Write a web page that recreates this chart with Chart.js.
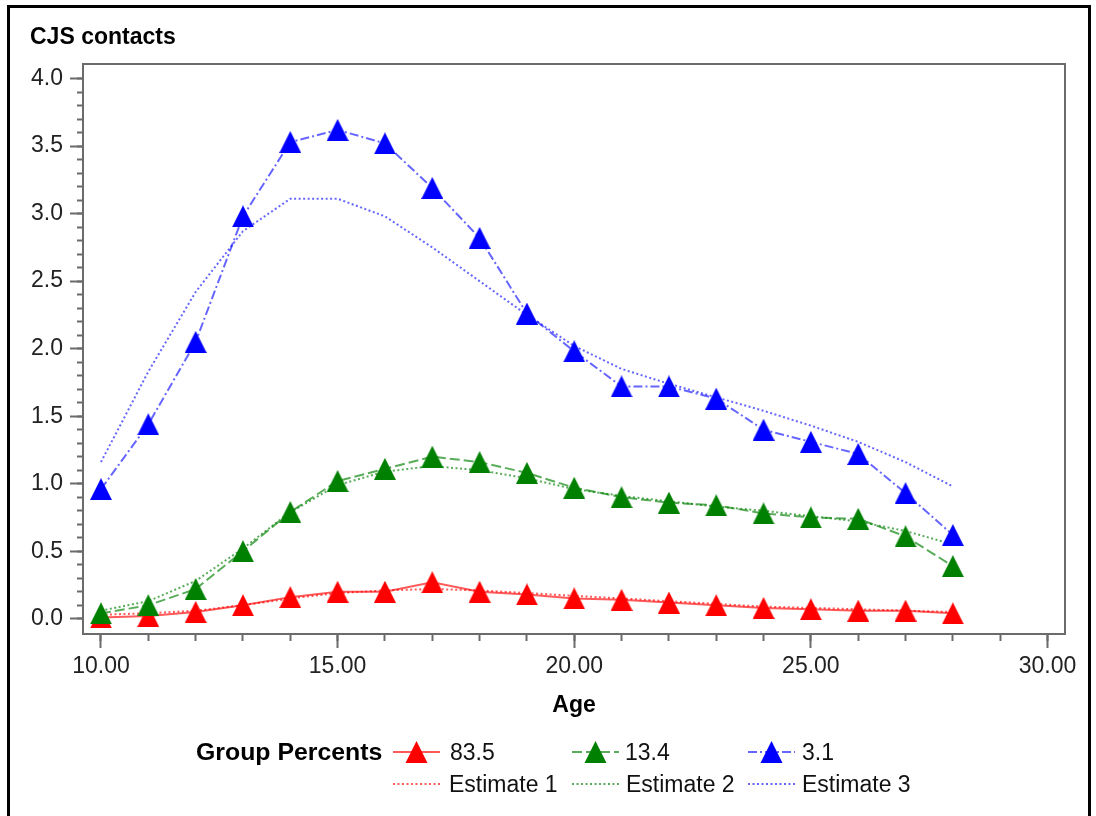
<!DOCTYPE html>
<html>
<head>
<meta charset="utf-8">
<title>CJS contacts</title>
<script src="https://cdn.jsdelivr.net/npm/chart.js@4/dist/chart.umd.min.js"></script>
<style>
  html, body { margin: 0; padding: 0; background: #fff; }
  #wrap { position: relative; width: 1096px; height: 816px; overflow: hidden; }
  #chart { position: absolute; left: 0; top: 0; }
  #frame { position: absolute; left: 7px; top: 5px; width: 1084px; height: 840px;
           border: 3px solid #000; box-sizing: border-box; pointer-events: none; }
  .lg { position: absolute; height: 28px; line-height: 28px; white-space: nowrap;
        font-family: 'Liberation Sans', Arial, sans-serif; font-size: 23px; color: #111; }
  .lg.b { font-weight: bold; color: #000; }
  .sw { position: absolute; width: 48px; height: 28px; }
</style>
</head>
<body>
<div id="wrap">
  <canvas id="chart" width="1096" height="816"></canvas>
  <div id="frame"></div>
  <div id="legend"></div>
</div>
<script>
// Age in years
const ages = [10, 11, 12, 13, 14, 15, 16, 17, 18, 19, 20, 21, 22, 23, 24, 25, 26, 27, 28];

// Observed mean CJS contacts per trajectory group
const group1 = [0.01, 0.02, 0.05, 0.10, 0.16, 0.20, 0.20, 0.27, 0.20, 0.18, 0.15, 0.14, 0.12, 0.10, 0.08, 0.07, 0.06, 0.06, 0.04];
const group2 = [0.04, 0.10, 0.22, 0.50, 0.79, 1.02, 1.11, 1.20, 1.16, 1.08, 0.97, 0.90, 0.86, 0.84, 0.78, 0.75, 0.74, 0.61, 0.39];
const group3 = [0.96, 1.44, 2.05, 2.98, 3.53, 3.62, 3.52, 3.19, 2.82, 2.26, 1.98, 1.72, 1.72, 1.63, 1.40, 1.31, 1.22, 0.93, 0.62];

// Model estimates per group
const estimate1 = [0.03, 0.04, 0.06, 0.10, 0.15, 0.19, 0.21, 0.22, 0.21, 0.19, 0.17, 0.15, 0.13, 0.11, 0.09, 0.08, 0.07, 0.06, 0.05];
const estimate2 = [0.06, 0.13, 0.28, 0.52, 0.79, 0.99, 1.09, 1.13, 1.10, 1.04, 0.96, 0.91, 0.87, 0.83, 0.80, 0.76, 0.72, 0.65, 0.55];
const estimate3 = [1.16, 1.83, 2.42, 2.87, 3.11, 3.11, 2.98, 2.75, 2.50, 2.25, 2.02, 1.85, 1.74, 1.64, 1.54, 1.43, 1.31, 1.16, 0.98];

// Legend names
const groupPercents = ['83.5', '13.4', '3.1'];
const estimateNames = ['Estimate 1', 'Estimate 2', 'Estimate 3'];

// Axis tick labels
const xTickValues = [10, 15, 20, 25, 30];
const yTickValues = [0, 0.5, 1.0, 1.5, 2.0, 2.5, 3.0, 3.5, 4.0];

const FONT = "'Liberation Sans', Arial, sans-serif";
const AXIS_GREY = '#6b6b6b';
const COLORS = ['#ff0000', '#008000', '#0000ff'];
const LINE_COLORS = ['rgba(255,0,0,0.65)', 'rgba(0,128,0,0.65)', 'rgba(0,0,255,0.6)'];
const GROUP_DASH = [[], [10, 4], [9, 3, 2, 3]];
const EST_DASH = [2, 2.5];

// Filled triangle used as the point marker
function triangleMarker(color) {
  const c = document.createElement('canvas');
  c.width = 22; c.height = 22;
  const g = c.getContext('2d');
  g.fillStyle = color;
  g.beginPath();
  g.moveTo(11, 0); g.lineTo(22, 22); g.lineTo(0, 22);
  g.closePath(); g.fill();
  return c;
}

const toPoints = vals => ages.map((a, i) => ({ x: a, y: vals[i] }));

const groupData = [group1, group2, group3];
const estData = [estimate1, estimate2, estimate3];

const datasets = [];
groupData.forEach((vals, k) => {
  datasets.push({
    label: groupPercents[k],
    data: toPoints(vals),
    borderColor: LINE_COLORS[k],
    borderWidth: 2,
    borderDash: GROUP_DASH[k],
    pointStyle: triangleMarker(COLORS[k]),
    pointRadius: 11,
    tension: 0,
    order: 3 - k
  });
});
estData.forEach((vals, k) => {
  datasets.push({
    label: estimateNames[k],
    data: toPoints(vals),
    borderColor: LINE_COLORS[k],
    borderWidth: 2,
    borderDash: EST_DASH,
    pointRadius: 0,
    tension: 0,
    order: 6 - k
  });
});

const xMin = 9.62, xMax = 30.37;
const yMin = -0.113, yMax = 4.111;

const minorX = [];
for (let v = 10; v <= 30; v++) minorX.push(v);
const minorY = [];
for (let i = 0; i <= 40; i++) minorY.push(i / 10);

const tickFont = { family: FONT, size: 23 };

new Chart(document.getElementById('chart'), {
  type: 'line',
  data: { datasets },
  options: {
    responsive: false,
    animation: false,
    devicePixelRatio: 1,
    events: [],
    layout: { padding: { left: 30, right: 31, top: 0, bottom: 72 } },
    plugins: {
      legend: { display: false },
      tooltip: { enabled: false },
      title: {
        display: true,
        text: 'CJS contacts',
        align: 'start',
        color: '#000',
        font: { family: FONT, size: 23, weight: 'bold' },
        padding: { top: 24, bottom: 12 }
      }
    },
    scales: {
      x: {
        type: 'linear', position: 'bottom', weight: 1,
        min: xMin, max: xMax,
        afterBuildTicks: s => { s.ticks = xTickValues.map(v => ({ value: v })); },
        afterFit: s => { s.height = 110; },
        ticks: { callback: v => v.toFixed(2), font: tickFont, color: '#222', padding: 5, maxRotation: 0, autoSkip: false },
        grid: { drawOnChartArea: false, drawTicks: true, tickLength: 14, tickWidth: 2, tickColor: AXIS_GREY },
        border: { display: true, color: AXIS_GREY, width: 2 },
        title: { display: true, text: 'Age', color: '#000',
                 font: { family: FONT, size: 23, weight: 'bold' }, padding: { top: 0, bottom: 25 } }
      },
      xMinor: {
        type: 'linear', position: 'bottom', weight: 0,
        min: xMin, max: xMax,
        afterBuildTicks: s => { s.ticks = minorX.map(v => ({ value: v })); },
        afterFit: s => { s.height = 0; },
        ticks: { display: false },
        grid: { drawOnChartArea: false, drawTicks: true, tickLength: 7, tickWidth: 2, tickColor: AXIS_GREY },
        border: { display: false }
      },
      xTop: {
        type: 'linear', position: 'top',
        min: xMin, max: xMax,
        afterFit: s => { s.height = 0; },
        ticks: { display: false },
        grid: { drawOnChartArea: false, drawTicks: false },
        border: { display: true, color: AXIS_GREY, width: 2 }
      },
      y: {
        type: 'linear', position: 'left', weight: 1,
        min: yMin, max: yMax,
        afterBuildTicks: s => { s.ticks = yTickValues.map(v => ({ value: v })); },
        afterFit: s => { s.width = 53; },
        ticks: { callback: v => v.toFixed(1), font: tickFont, color: '#222', padding: 7, autoSkip: false },
        grid: { drawOnChartArea: false, drawTicks: true, tickLength: 13, tickWidth: 2, tickColor: AXIS_GREY },
        border: { display: true, color: AXIS_GREY, width: 2 }
      },
      yMinor: {
        type: 'linear', position: 'left', weight: 0,
        min: yMin, max: yMax,
        afterBuildTicks: s => { s.ticks = minorY.map(v => ({ value: v })); },
        afterFit: s => { s.width = 0; },
        ticks: { display: false },
        grid: { drawOnChartArea: false, drawTicks: true, tickLength: 6, tickWidth: 2, tickColor: AXIS_GREY },
        border: { display: false }
      },
      yRight: {
        type: 'linear', position: 'right',
        min: yMin, max: yMax,
        afterFit: s => { s.width = 0; },
        ticks: { display: false },
        grid: { drawOnChartArea: false, drawTicks: false },
        border: { display: true, color: AXIS_GREY, width: 2 }
      }
    }
  }
});

// Legend: "Group Percents" heading, observed groups on the first row, estimates on the second
(function buildLegend() {
  const host = document.getElementById('legend');
  const rowY = [752, 784];
  const swatchX = [393, 572, 748];
  const textX = [[450, 625, 802], [449, 626, 802]];

  const head = document.createElement('div');
  head.className = 'lg b';
  head.textContent = 'Group Percents';
  head.style.left = '196px';
  head.style.top = (rowY[0] - 14) + 'px';
  head.style.transform = 'scaleX(1.08)';
  head.style.transformOrigin = 'left center';
  host.appendChild(head);

  const svgNS = 'http://www.w3.org/2000/svg';
  function swatch(x, y, k, withMarker, dash) {
    const svg = document.createElementNS(svgNS, 'svg');
    svg.setAttribute('class', 'sw');
    svg.setAttribute('width', '48');
    svg.setAttribute('height', '28');
    svg.style.left = x + 'px';
    svg.style.top = (y - 14) + 'px';
    const line = document.createElementNS(svgNS, 'line');
    line.setAttribute('x1', '0'); line.setAttribute('x2', '47');
    line.setAttribute('y1', '14'); line.setAttribute('y2', '14');
    line.setAttribute('stroke', LINE_COLORS[k]);
    line.setAttribute('stroke-width', '2');
    if (dash.length) line.setAttribute('stroke-dasharray', dash.join(' '));
    svg.appendChild(line);
    if (withMarker) {
      const tri = document.createElementNS(svgNS, 'polygon');
      tri.setAttribute('points', '23.5,3 34.5,25 12.5,25');
      tri.setAttribute('fill', COLORS[k]);
      svg.appendChild(tri);
    }
    host.appendChild(svg);
  }
  function label(x, y, text) {
    const d = document.createElement('div');
    d.className = 'lg';
    d.textContent = text;
    d.style.left = x + 'px';
    d.style.top = (y - 14) + 'px';
    host.appendChild(d);
  }
  for (let k = 0; k < 3; k++) {
    swatch(swatchX[k], rowY[0], k, true, GROUP_DASH[k]);
    label(textX[0][k], rowY[0], groupPercents[k]);
    swatch(swatchX[k], rowY[1], k, false, EST_DASH);
    label(textX[1][k], rowY[1], estimateNames[k]);
  }
})();
</script>
</body>
</html>
